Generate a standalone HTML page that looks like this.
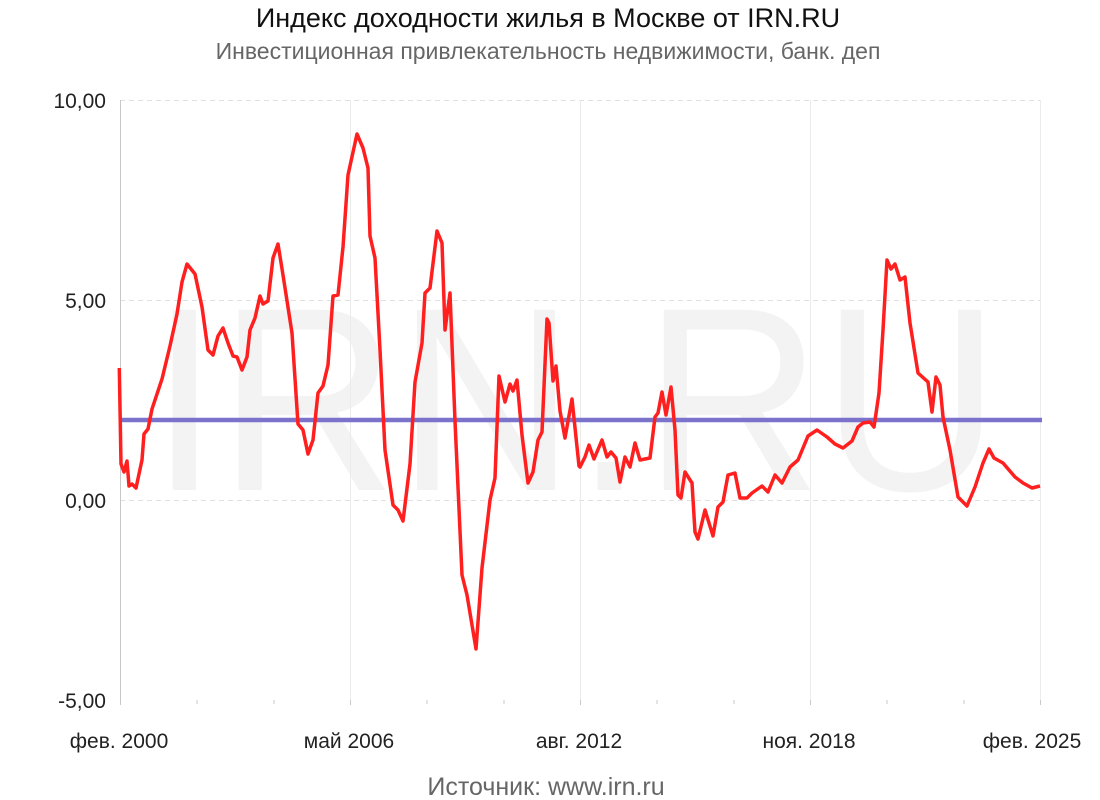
<!DOCTYPE html>
<html><head><meta charset="utf-8"><style>
body{margin:0;background:#fff}
svg{display:block;font-family:"Liberation Sans","DejaVu Sans",sans-serif}
</style></head><body>
<svg width="1100" height="800" viewBox="0 0 1100 800">
<rect width="1100" height="800" fill="#fff"/>
<text x="575" y="490" font-size="262" fill="#f3f3f3" text-anchor="middle" textLength="850" lengthAdjust="spacingAndGlyphs">IRN.RU</text>
<g stroke="#e0e0e0" stroke-width="1" stroke-dasharray="5,4">
<line x1="120" y1="100.5" x2="1041" y2="100.5"/>
<line x1="120" y1="300.5" x2="1041" y2="300.5"/>
<line x1="120" y1="500.5" x2="1041" y2="500.5"/>
</g>
<g stroke="#ebebeb" stroke-width="1">
<line x1="350.5" y1="100" x2="350.5" y2="700"/>
<line x1="580.5" y1="100" x2="580.5" y2="700"/>
<line x1="810.5" y1="100" x2="810.5" y2="700"/>
<line x1="1040.5" y1="100" x2="1040.5" y2="700"/>
</g>
<line x1="120.5" y1="100" x2="120.5" y2="700" stroke="#c8c8c8"/>
<g stroke="#c8c8c8">
<line x1="120.5" y1="700" x2="120.5" y2="705"/><line x1="197" y1="700" x2="197" y2="704"/><line x1="274" y1="700" x2="274" y2="704"/>
<line x1="350.5" y1="700" x2="350.5" y2="705"/><line x1="427" y1="700" x2="427" y2="704"/><line x1="504" y1="700" x2="504" y2="704"/>
<line x1="580.5" y1="700" x2="580.5" y2="705"/><line x1="657" y1="700" x2="657" y2="704"/><line x1="734" y1="700" x2="734" y2="704"/>
<line x1="810.5" y1="700" x2="810.5" y2="705"/><line x1="887" y1="700" x2="887" y2="704"/><line x1="964" y1="700" x2="964" y2="704"/>
<line x1="1040.5" y1="700" x2="1040.5" y2="705"/>
</g>
<line x1="119" y1="420" x2="1042" y2="420" stroke="#7b72cc" stroke-width="4.5"/>
<polyline fill="none" stroke="#ff1f1f" stroke-width="3.5" stroke-linejoin="round" points="
119.3,368 121,464 124,472 127,461 129,486 132,484 136,488 142,460 144,434 148,429 152,409 162,379 170,346 177,314 182,282 187,264 195,274 202,307 208,350 213,355 218,336 223,328 228,343 233,356 237,357 242,370 247,357 250,330 255,318 260,296 263,304 268,301 273,258 278,244 283,275 292,333 298,424 303,430 308,454 313,440 318,393 323,386 328,365 333,296 338,295 343,247 348,175 357,134 363,148 368,168 370,236 375,258 380,350 385,450 393,505 398,510 403,521 410,464 415,382 422,343 425,293 430,288 437,231 442,243 445,330 450,293 455,421 462,575 467,595 476,649 482,568 490,500 495,478 499,376 505,402 510,384 513,391 517,380 522,435 528,483 533,472 538,440 542,432 547,319 549,323 553,381 556,366 560,411 565,438 572,399 579,466 580,467 585,457 589,445 594,459 602,440 607,457 611,452 616,458 620,482 625,457 630,467 635,443 640,460 650,458 655,417 658,413 662,392 666,415 671,387 675,430 678,495 681,498 685,472 692,483 695,532 698,539 705,510 713,536 718,507 723,502 728,475 735,473 740,498 747,498 752,493 762,486 768,492 775,475 782,483 790,467 798,460 808,436 817,430 827,437 835,444 843,448 852,441 858,427 863,423 870,422 874,427 879,393 883,330 887,260 891,269 895,264 900,280 905,277 910,323 918,373 928,382 932,412 936,377 940,385 943,417 950,450 958,497 967,506 975,487 983,463 989,449 994,458 1003,463 1015,477 1023,483 1032,488 1040,486"/>
<g font-size="21" fill="#222" text-anchor="end">
<text x="106" y="108">10,00</text>
<text x="106" y="308">5,00</text>
<text x="106" y="508">0,00</text>
<text x="106" y="708">-5,00</text>
</g>
<g font-size="21" fill="#222" text-anchor="middle">
<text x="119" y="748">фев. 2000</text>
<text x="349" y="748">май 2006</text>
<text x="579" y="748">авг. 2012</text>
<text x="809" y="748">ноя. 2018</text>
<text x="1032" y="748">фев. 2025</text>
</g>
<text x="548" y="27" font-size="27" fill="#111" text-anchor="middle">Индекс доходности жилья в Москве от IRN.RU</text>
<text x="548" y="59" font-size="23" fill="#666" text-anchor="middle">Инвестиционная привлекательность недвижимости, банк. деп</text>
<text x="546" y="795" font-size="25" fill="#666" text-anchor="middle">Источник: www.irn.ru</text>
</svg>
</body></html>
